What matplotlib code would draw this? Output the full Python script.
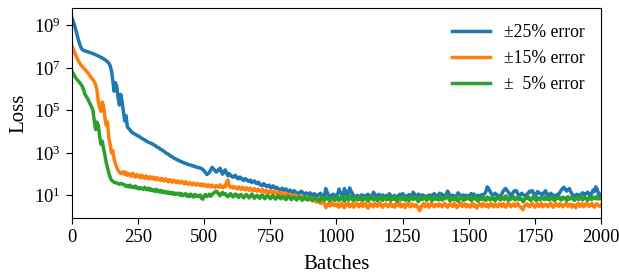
import numpy as np
import matplotlib
matplotlib.use("Agg")
import matplotlib.pyplot as plt
from matplotlib.ticker import NullLocator

plt.rcParams['font.family'] = ['Liberation Serif', 'DejaVu Serif']
plt.rcParams['mathtext.fontset'] = 'custom'
plt.rcParams['mathtext.rm'] = 'Liberation Serif'

# loss, as log10(loss), one value every 5 batches
batches = np.arange(0, 2001, 5)
labels = ["\u00b125% error", "\u00b115% error", "\u00b1  5% error"]
colors = ["#1f77b4", "#ff7f0e", "#2ca02c"]

log_loss_25 = [
    9.38, 9.20, 9.02, 8.78, 8.55, 8.32, 8.12, 7.95, 7.86, 7.82, 7.80, 7.78, 7.76, 7.74, 7.72, 7.70, 7.67, 7.65, 7.62, 7.59,
    7.56, 7.53, 7.50, 7.47, 7.43, 7.39, 7.34, 7.29, 7.22, 7.10, 6.85, 6.40, 5.90, 6.30, 6.12, 5.60, 5.25, 5.75, 5.40, 4.95,
    4.50, 4.75, 4.22, 4.15, 4.08, 3.99, 3.95, 3.90, 3.88, 3.83, 3.80, 3.77, 3.71, 3.69, 3.64, 3.62, 3.56, 3.54, 3.49, 3.47,
    3.46, 3.41, 3.38, 3.35, 3.29, 3.26, 3.23, 3.17, 3.14, 3.11, 3.05, 3.01, 2.96, 2.94, 2.88, 2.84, 2.81, 2.76, 2.73, 2.70,
    2.66, 2.64, 2.60, 2.58, 2.55, 2.52, 2.51, 2.48, 2.45, 2.44, 2.42, 2.39, 2.39, 2.35, 2.34, 2.31, 2.31, 2.28, 2.27, 2.22,
    2.15, 2.08, 1.98, 2.02, 2.08, 2.20, 2.32, 2.25, 2.18, 2.10, 2.12, 2.22, 2.28, 2.12, 2.00, 2.14, 2.20, 2.05, 1.92, 2.02,
    1.95, 1.88, 1.85, 1.94, 1.92, 1.80, 1.78, 1.86, 1.82, 1.74, 1.70, 1.79, 1.75, 1.68, 1.66, 1.72, 1.60, 1.65, 1.68, 1.58,
    1.55, 1.62, 1.52, 1.48, 1.45, 1.55, 1.50, 1.42, 1.42, 1.48, 1.38, 1.35, 1.45, 1.40, 1.33, 1.38, 1.30, 1.26, 1.28, 1.34,
    1.22, 1.28, 1.30, 1.18, 1.20, 1.25, 1.15, 1.12, 1.22, 1.16, 1.12, 1.08, 1.10, 1.18, 1.18, 1.06, 1.05, 1.12, 1.08, 1.02,
    1.12, 1.04, 1.00, 1.08, 1.05, 0.96, 0.98, 1.06, 1.10, 0.98, 0.95, 1.02, 1.32, 1.15, 1.00, 0.94, 0.95, 1.04, 1.05, 0.96,
    0.98, 1.06, 1.30, 1.12, 1.05, 0.96, 1.32, 1.18, 1.00, 1.08, 1.35, 1.20, 1.10, 0.98, 0.90, 0.96, 1.00, 0.94, 0.92, 1.02,
    1.00, 0.94, 0.95, 1.02, 1.05, 0.96, 0.90, 0.98, 1.15, 1.04, 1.00, 0.94, 1.05, 0.98, 0.95, 1.02, 0.90, 0.96, 1.00, 0.94,
    1.08, 0.98, 0.90, 0.96, 1.00, 0.94, 0.92, 1.00, 1.05, 0.96, 1.08, 1.02, 0.92, 0.96, 0.98, 1.04, 0.90, 0.98, 1.15, 1.06,
    1.00, 0.94, 1.06, 1.00, 0.95, 1.02, 1.00, 0.94, 0.92, 0.98, 1.02, 0.96, 1.00, 1.04, 1.08, 0.98, 0.96, 1.02, 1.10, 1.04,
    1.05, 0.98, 0.95, 1.04, 1.20, 1.10, 0.95, 1.00, 1.00, 0.94, 0.95, 1.02, 1.12, 1.04, 0.98, 0.94, 1.02, 0.98, 1.00, 0.96,
    0.95, 1.02, 1.08, 1.00, 1.06, 0.98, 0.96, 1.00, 0.95, 1.02, 1.00, 1.04, 1.08, 1.18, 1.40, 1.32, 1.20, 1.08, 1.00, 1.04,
    1.10, 1.02, 1.00, 0.96, 0.98, 1.06, 1.20, 1.28, 1.32, 1.22, 1.15, 1.04, 1.00, 1.08, 1.18, 1.22, 1.22, 1.08, 0.98, 1.02,
    1.10, 1.04, 1.00, 0.96, 1.05, 1.12, 1.20, 1.16, 1.22, 1.10, 1.00, 1.04, 1.18, 1.12, 1.10, 1.02, 1.05, 1.14, 1.22, 1.08,
    0.95, 1.02, 1.10, 1.04, 1.00, 0.96, 0.98, 1.04, 1.05, 1.15, 1.25, 1.32, 1.38, 1.28, 1.20, 1.26, 1.32, 1.18, 1.05, 1.00,
    0.98, 1.02, 1.05, 0.98, 1.00, 1.06, 1.12, 1.04, 1.05, 1.10, 1.15, 1.06, 1.00, 1.10, 1.25, 1.18, 1.40, 1.30, 1.10, 1.02,
    1.05]

log_loss_15 = [
    8.05, 7.90, 7.75, 7.60, 7.45, 7.33, 7.22, 7.13, 7.05, 6.98, 6.92, 6.85, 6.78, 6.70, 6.60, 6.52, 6.45, 6.35, 6.20, 5.95,
    5.45, 5.15, 4.95, 5.40, 5.20, 4.70, 4.30, 4.45, 3.70, 3.40, 3.00, 3.10, 2.70, 2.50, 2.30, 2.18, 2.10, 2.02, 2.05, 2.12,
    1.98, 2.08, 1.94, 2.02, 1.96, 1.90, 2.04, 1.92, 1.86, 1.98, 1.88, 1.94, 1.82, 1.95, 1.86, 1.80, 1.92, 1.84, 1.78, 1.88,
    1.80, 1.86, 1.76, 1.84, 1.72, 1.82, 1.76, 1.70, 1.80, 1.72, 1.68, 1.78, 1.70, 1.64, 1.74, 1.66, 1.62, 1.72, 1.64, 1.60,
    1.68, 1.62, 1.58, 1.66, 1.60, 1.54, 1.64, 1.56, 1.52, 1.60, 1.54, 1.50, 1.58, 1.52, 1.48, 1.56, 1.50, 1.46, 1.54, 1.44,
    1.52, 1.46, 1.42, 1.50, 1.44, 1.40, 1.48, 1.42, 1.38, 1.46, 1.42, 1.38, 1.50, 1.40, 1.36, 1.44, 1.40, 1.62, 1.72, 1.45,
    1.38, 1.42, 1.34, 1.40, 1.36, 1.30, 1.40, 1.32, 1.28, 1.38, 1.30, 1.26, 1.36, 1.28, 1.24, 1.34, 1.26, 1.22, 1.32, 1.24,
    1.20, 1.30, 1.22, 1.18, 1.28, 1.20, 1.14, 1.24, 1.16, 1.12, 1.22, 1.14, 1.10, 1.20, 1.12, 1.06, 1.16, 1.08, 1.04, 1.14,
    1.04, 1.00, 1.10, 1.02, 0.96, 1.06, 0.98, 0.92, 1.02, 0.94, 0.88, 0.98, 0.90, 0.86, 0.96, 0.88, 0.82, 0.92, 0.84, 0.80,
    0.88, 0.78, 0.74, 0.84, 0.72, 0.68, 0.78, 0.70, 0.62, 0.72, 0.64, 0.60, 0.42, 0.55, 0.62, 0.50, 0.56, 0.64, 0.52, 0.58,
    0.50, 0.60, 0.44, 0.56, 0.62, 0.48, 0.42, 0.58, 0.52, 0.64, 0.46, 0.55, 0.60, 0.44, 0.50, 0.62, 0.56, 0.46, 0.58, 0.64,
    0.48, 0.54, 0.62, 0.45, 0.40, 0.56, 0.60, 0.50, 0.46, 0.62, 0.55, 0.48, 0.58, 0.64, 0.50, 0.44, 0.56, 0.60, 0.52, 0.46,
    0.58, 0.62, 0.48, 0.54, 0.44, 0.60, 0.56, 0.50, 0.64, 0.46, 0.52, 0.58, 0.42, 0.55, 0.62, 0.50, 0.46, 0.60, 0.54, 0.48,
    0.56, 0.50, 0.38, 0.28, 0.46, 0.55, 0.62, 0.48, 0.52, 0.60, 0.44, 0.56, 0.62, 0.50, 0.46, 0.58, 0.54, 0.48, 0.60, 0.52,
    0.46, 0.58, 0.62, 0.50, 0.44, 0.56, 0.60, 0.52, 0.48, 0.62, 0.55, 0.42, 0.50, 0.58, 0.64, 0.48, 0.54, 0.60, 0.46, 0.56,
    0.52, 0.44, 0.58, 0.62, 0.48, 0.55, 0.40, 0.50, 0.60, 0.56, 0.46, 0.62, 0.52, 0.48, 0.58, 0.44, 0.55, 0.62, 0.50, 0.46,
    0.58, 0.52, 0.46, 0.60, 0.55, 0.48, 0.62, 0.50, 0.44, 0.58, 0.64, 0.52, 0.46, 0.56, 0.60, 0.48, 0.54, 0.62, 0.50, 0.45,
    0.40, 0.32, 0.48, 0.56, 0.60, 0.50, 0.46, 0.58, 0.62, 0.52, 0.44, 0.55, 0.60, 0.48, 0.54, 0.62, 0.46, 0.52, 0.58, 0.50,
    0.46, 0.58, 0.62, 0.50, 0.44, 0.56, 0.60, 0.52, 0.48, 0.62, 0.55, 0.46, 0.52, 0.60, 0.64, 0.48, 0.54, 0.58, 0.44, 0.56,
    0.52, 0.42, 0.58, 0.62, 0.48, 0.55, 0.60, 0.46, 0.52, 0.64, 0.56, 0.48, 0.54, 0.62, 0.50, 0.44, 0.58, 0.60, 0.52, 0.48,
    0.55]

log_loss_5 = [
    6.85, 6.74, 6.62, 6.53, 6.45, 6.38, 6.30, 6.22, 6.12, 5.95, 5.75, 5.65, 5.55, 5.42, 5.30, 5.15, 5.00, 4.50, 4.10, 4.45,
    4.30, 3.80, 3.40, 3.55, 3.20, 2.90, 2.55, 2.30, 2.05, 1.85, 1.72, 1.66, 1.62, 1.60, 1.58, 1.55, 1.52, 1.56, 1.55, 1.50,
    1.50, 1.42, 1.46, 1.40, 1.48, 1.38, 1.42, 1.36, 1.44, 1.34, 1.38, 1.30, 1.36, 1.32, 1.28, 1.38, 1.30, 1.26, 1.34, 1.24,
    1.30, 1.22, 1.26, 1.18, 1.28, 1.20, 1.16, 1.24, 1.14, 1.20, 1.12, 1.18, 1.10, 1.16, 1.08, 1.14, 1.06, 1.12, 1.04, 1.10,
    1.06, 1.10, 1.00, 1.08, 0.98, 1.04, 1.08, 0.96, 1.02, 0.94, 1.06, 0.98, 0.92, 1.04, 0.96, 1.00, 0.94, 1.02, 0.86, 0.82,
    0.98, 1.04, 0.94, 0.98, 1.06, 0.96, 1.02, 1.10, 1.14, 1.20, 1.16, 1.06, 0.98, 1.08, 1.14, 1.04, 1.08, 0.98, 0.94, 1.02,
    1.08, 0.98, 0.92, 1.04, 1.06, 0.96, 0.90, 1.02, 1.04, 0.94, 0.88, 0.98, 1.04, 0.96, 0.88, 0.94, 1.06, 0.98, 0.86, 0.94,
    1.00, 0.92, 0.86, 0.98, 1.02, 0.90, 0.84, 0.96, 1.00, 0.92, 0.84, 0.94, 1.00, 0.88, 0.82, 0.92, 0.98, 0.88, 0.84, 0.94,
    0.92, 0.84, 0.80, 0.94, 0.96, 0.86, 0.80, 0.90, 0.92, 0.84, 0.78, 0.88, 0.94, 0.86, 0.76, 0.84, 0.94, 0.88, 0.78, 0.82,
    0.90, 0.82, 0.76, 0.86, 0.92, 0.84, 0.78, 0.72, 0.86, 0.94, 0.82, 0.76, 0.88, 0.90, 0.80, 0.74, 0.84, 0.92, 0.80, 0.76,
    0.84, 0.92, 0.76, 0.86, 0.96, 0.80, 0.72, 0.88, 0.94, 0.78, 0.84, 0.98, 0.82, 0.74, 0.90, 0.86, 0.78, 0.94, 0.80, 0.88,
    0.76, 0.84, 0.92, 0.80, 0.72, 0.88, 0.96, 0.82, 0.78, 0.90, 0.84, 0.74, 0.86, 0.94, 0.80, 0.76, 0.92, 0.86, 0.78, 0.98,
    0.84, 0.76, 0.90, 0.82, 0.96, 0.78, 0.72, 0.86, 0.92, 0.80, 0.84, 0.94, 0.76, 0.88, 0.82, 0.74, 0.90, 0.96, 0.80, 0.86,
    0.92, 0.78, 0.70, 0.84, 0.90, 0.80, 0.88, 0.96, 0.76, 0.82, 0.94, 0.86, 0.74, 0.88, 0.80, 0.92, 0.84, 0.78, 0.96, 0.82,
    0.78, 0.88, 0.84, 0.96, 1.00, 0.82, 0.74, 0.90, 0.86, 0.78, 0.94, 0.80, 0.72, 0.88, 0.92, 0.84, 0.76, 0.90, 0.82, 0.86,
    0.94, 0.80, 0.76, 0.88, 0.84, 0.96, 0.78, 0.72, 0.90, 0.86, 0.80, 0.94, 0.82, 0.76, 0.92, 0.88, 0.78, 0.84, 0.96, 0.80,
    0.74, 0.88, 0.92, 0.82, 0.78, 0.94, 0.86, 0.80, 0.98, 0.84, 0.76, 0.90, 0.82, 0.88, 0.94, 0.78, 0.84, 0.92, 0.80, 0.86,
    0.82, 0.70, 0.78, 0.90, 0.86, 0.94, 0.80, 0.76, 0.88, 0.96, 0.82, 0.74, 0.90, 0.84, 0.78, 0.92, 0.86, 0.80, 0.94, 0.82,
    0.88, 0.78, 0.84, 0.94, 0.80, 0.74, 0.90, 0.86, 0.96, 0.82, 0.78, 0.92, 0.84, 0.88, 0.76, 0.94, 0.82, 0.86, 0.92, 0.80,
    0.76, 0.88, 0.92, 0.80, 0.84, 0.96, 0.78, 0.86, 0.90, 0.82, 0.76, 0.94, 0.88, 0.80, 0.92, 0.86, 0.84, 0.96, 0.82, 0.90,
    0.85]

fig, ax = plt.subplots(figsize=(6.19, 2.75), dpi=100)
fig.subplots_adjust(left=0.116, right=0.971, bottom=0.207, top=0.97)

for series, lab, c in zip([log_loss_25, log_loss_15, log_loss_5], labels, colors):
    ax.plot(batches, 10.0 ** np.array(series), color=c, lw=2.5, label=lab)

ax.set_yscale("log")
ax.set_xlim(0, 2000)
ax.set_ylim(10 ** -0.07, 10 ** 9.81)
ax.set_xticks([0, 250, 500, 750, 1000, 1250, 1500, 1750, 2000])
ax.set_yticks([1e1, 1e3, 1e5, 1e7, 1e9])
ax.yaxis.set_minor_locator(NullLocator())
ax.tick_params(labelsize=13.4, length=4.5)
ax.set_xlabel("Batches", fontsize=15, labelpad=6)
ax.set_ylabel("Loss", fontsize=15, labelpad=4)
ax.legend(loc="upper right", frameon=False, fontsize=12.7, handlelength=2.15,
          borderaxespad=0.5)

fig.savefig("out.png", dpi=100)
